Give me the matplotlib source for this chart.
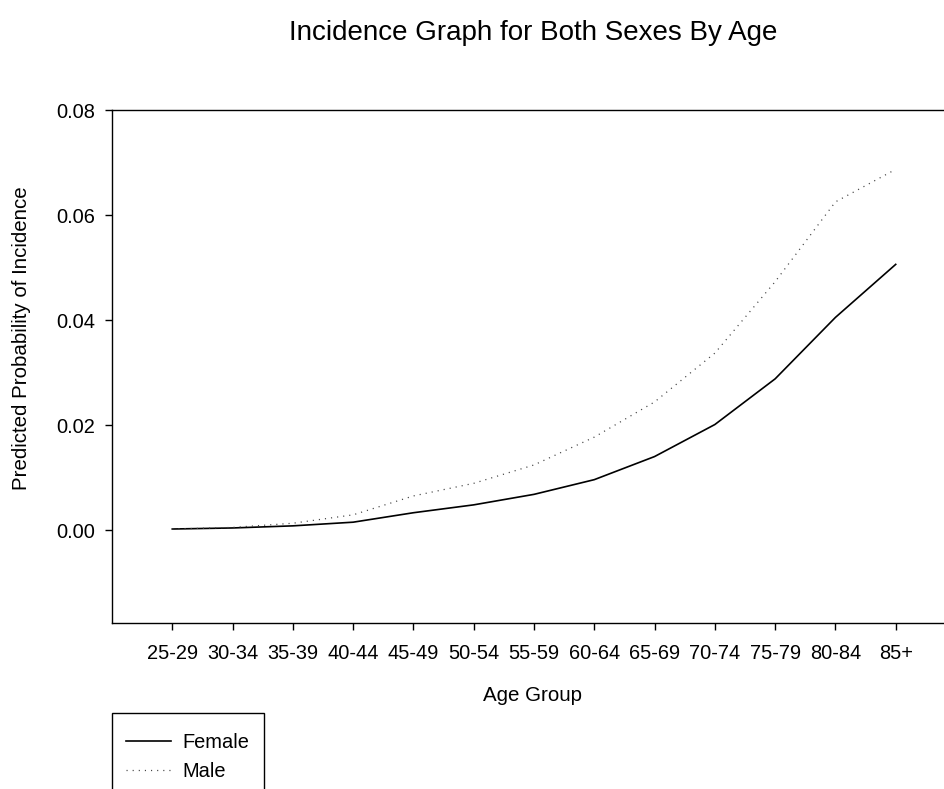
import matplotlib
matplotlib.use("Agg")
import matplotlib.pyplot as plt
from matplotlib.patches import Rectangle
from matplotlib.lines import Line2D

plt.rcParams['font.family'] = ['Liberation Sans', 'DejaVu Sans']

age_groups = ["25-29", "30-34", "35-39", "40-44", "45-49", "50-54", "55-59",
              "60-64", "65-69", "70-74", "75-79", "80-84", "85+"]
female = [0.0002, 0.0004, 0.0008, 0.0015, 0.0033, 0.0048, 0.0068,
          0.0096, 0.0140, 0.0201, 0.0288, 0.0405, 0.0506]
male = [0.0002, 0.0005, 0.0013, 0.0029, 0.0065, 0.0089, 0.0124,
        0.0177, 0.0244, 0.0337, 0.0473, 0.0625, 0.0687]
y_ticks = [0.00, 0.02, 0.04, 0.06, 0.08]

W, H = 945, 789
fig = plt.figure(figsize=(W / 100, H / 100), dpi=100)

# axes box in pixel terms: left 112, right 956 (runs past the canvas), top 110, bottom 623
ax = fig.add_axes([112 / W, 1 - 623 / H, (956 - 112) / W, (623 - 110) / H])

x = list(range(len(age_groups)))
ax.plot(x, female, color='black', lw=1.2, solid_joinstyle='miter')
ax.plot(x, male, color='#444444', lw=0.9, linestyle=(0, (0.9, 4.0)))

ax.set_xlim(-1, len(age_groups))
ax.set_ylim(-0.0177, 0.08)
ax.set_xticks(x)
ax.set_xticklabels(age_groups)
ax.set_yticks(y_ticks)
ax.set_yticklabels([f"{v:.2f}" for v in y_ticks])

ax.spines['right'].set_visible(False)
for s in ['left', 'top', 'bottom']:
    ax.spines[s].set_linewidth(1.0)
    ax.spines[s].set_color('black')
ax.tick_params(axis='both', direction='out', length=5, width=1.0,
               labelsize=14.4, colors='black')
ax.tick_params(axis='y', pad=7)
ax.tick_params(axis='x', pad=10)

fig.text(533 / W, 1 - 33 / H, "Incidence Graph for Both Sexes By Age",
         ha='center', va='center', fontsize=20)
fig.text(533 / W, 1 - 701 / H, "Age Group", ha='center', va='baseline', fontsize=14.8)
fig.text(22 / W, 1 - 338 / H, "Predicted Probability of Incidence",
         ha='center', va='center', rotation=90, fontsize=14.8)

# legend box, open at the bottom edge of the canvas
fig.patches.append(Rectangle((112 / W, -0.05), (264 - 112) / W, (1 - 713 / H) + 0.05,
                             transform=fig.transFigure, fill=False,
                             edgecolor='black', lw=1.0))
handles = [Line2D([], [], color='black', lw=1.2),
           Line2D([], [], color='#444444', lw=0.9, linestyle=(0, (0.9, 4.0)))]
fig.legend(handles, ["Female", "Male"], loc='upper left',
           bbox_to_anchor=(126 / W, 1 - 733 / H), frameon=False,
           fontsize=14.4, handlelength=2.25, handletextpad=0.55,
           labelspacing=0.5, borderpad=0, borderaxespad=0)

fig.savefig("out.png", dpi=100)
